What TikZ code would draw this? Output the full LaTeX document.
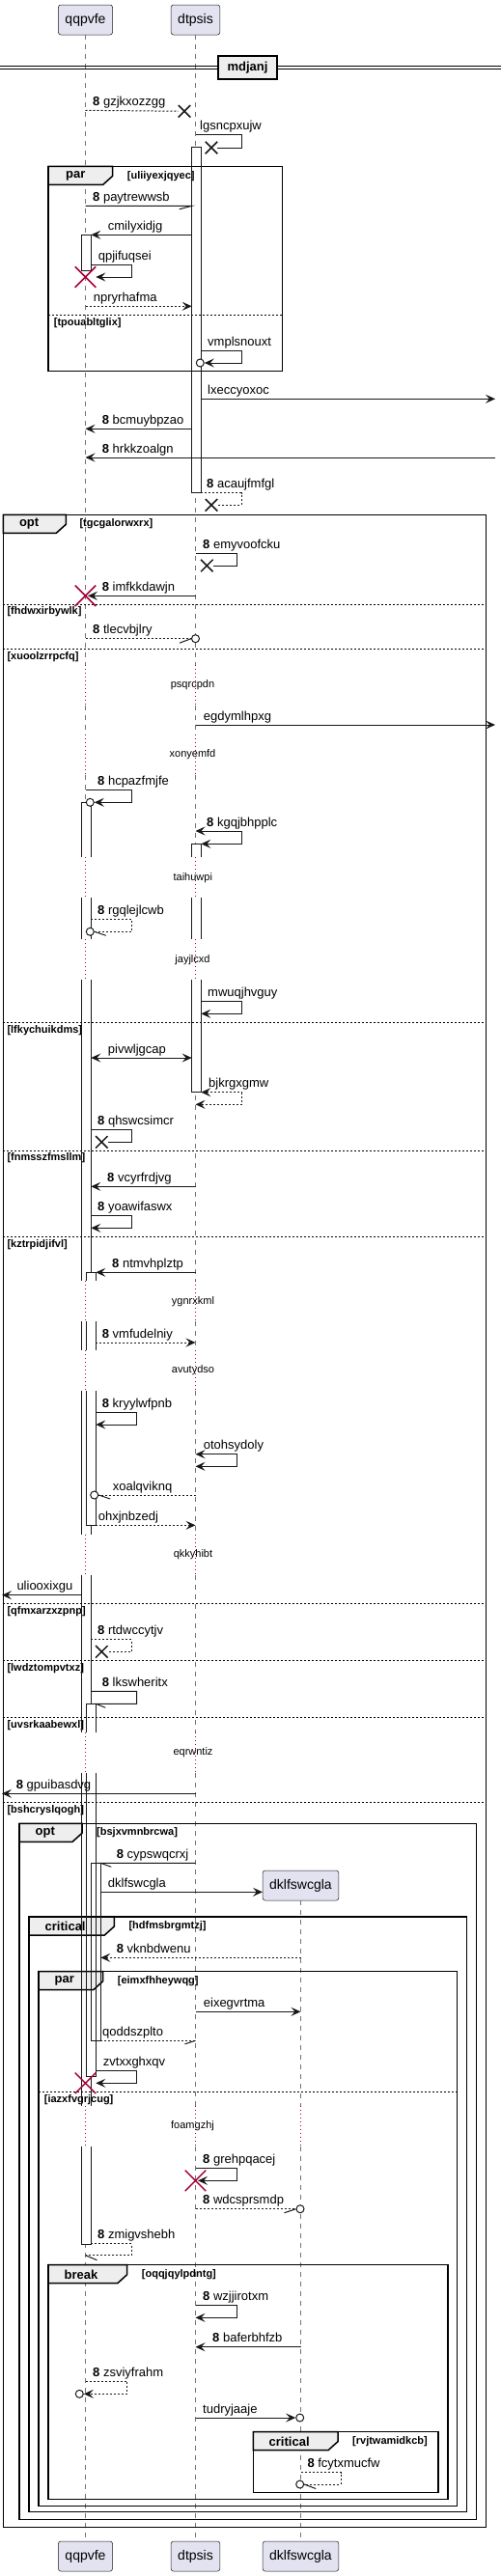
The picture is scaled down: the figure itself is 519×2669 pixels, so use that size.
\documentclass[tikz,border=0pt]{standalone}
\usepackage{fontspec}
\setmainfont{Liberation Sans}
\usetikzlibrary{arrows.meta,shapes.misc}

\definecolor{partfill}{HTML}{E2E2F0}
\definecolor{linecol}{HTML}{181818}
\definecolor{killcol}{HTML}{A80036}
\definecolor{tabfill}{HTML}{EEEEEE}

\begin{document}
\begin{tikzpicture}[x=1pt, y=-1pt,
  part/.style={draw=linecol, fill=partfill, rounded corners=2.5pt, line width=0.5pt,
    font=\fontsize{14}{16}\selectfont, inner xsep=7pt, inner ysep=0pt, minimum height=31pt},
  life/.style={draw=black!55, line width=0.7pt, dash pattern=on 5pt off 5pt},
  delayline/.style={draw=killcol, line width=0.8pt, dash pattern=on 1pt off 3pt},
  bline/.style={draw=linecol, line width=1pt},
  rline/.style={bline, dash pattern=on 2pt off 2pt},
  msg/.style={bline, -{Stealth[length=10pt, width=9pt, inset=4pt]}},
  rmsg/.style={rline, -{Stealth[length=10pt, width=9pt, inset=4pt]}},
  bimsg/.style={bline, {Stealth[length=10pt, width=9pt, inset=4pt]}-{Stealth[length=10pt, width=9pt, inset=4pt]}},
  birmsg/.style={rline, {Stealth[length=10pt, width=9pt, inset=4pt]}-{Stealth[length=10pt, width=9pt, inset=4pt]}},
  lbl/.style={font=\fontsize{13}{15}\selectfont, inner sep=0pt, anchor=base west},
  dlbl/.style={font=\fontsize{11}{13}\selectfont, inner sep=0pt},
  actline/.style={draw=linecol, line width=0.8pt},
  frm/.style={draw=black, line width=1.5pt},
  tabshape/.style={draw=black, fill=tabfill, line width=1.5pt},
  tablbl/.style={font=\bfseries\fontsize{13}{15}\selectfont, inner sep=0pt, anchor=west},
  guard/.style={font=\bfseries\fontsize{11}{13}\selectfont, inner sep=0pt, anchor=west},
  divline/.style={draw=black, line width=0.8pt, dash pattern=on 2pt off 2pt},
  lostx/.style={draw=linecol, cross out, line width=1.5pt, minimum size=11pt, inner sep=0pt},
  killx/.style={draw=killcol, cross out, line width=1.5pt, minimum size=20pt, inner sep=0pt},
  endo/.style={draw=linecol, circle, line width=1pt, fill=white, minimum size=8pt, inner sep=0pt}
]
\useasboundingbox (0,0) rectangle (519,2669);

% columns beside the activation bars
\coordinate (qa) at (84.3,0);
\coordinate (qm) at (89.3,0);
\coordinate (qb) at (94.3,0);
\coordinate (qc) at (99.3,0);
\coordinate (qd) at (104.3,0);
\coordinate (dl) at (198.7,0);
\coordinate (dr) at (208.3,0);
\coordinate (lft) at (2,0);
\coordinate (rgt) at (513,0);

% participants
\node[part] (qqpvfe) at (88.5,20.5) {qqpvfe};
\node[part] (dtpsis) at (202.5,20.5) {dtpsis};
\node[part] (dklf) at (311.5,1953.5) {dklfswcgla};
\node[part] (qqpvfeB) at (88.5,2648.5) {qqpvfe};
\node[part] (dtpsisB) at (202.5,2648.5) {dtpsis};
\node[part] (dklfB) at (311.5,2648.5) {dklfswcgla};

% lifelines
\draw[life] (qqpvfe.south) -- (qqpvfe |- 0,689) (qqpvfe |- 0,731) -- (qqpvfe |- 0,760.7)
  (qqpvfe |- 0,802.7) -- (qqpvfe |- 0,888) (qqpvfe |- 0,930) -- (qqpvfe |- 0,973)
  (qqpvfe |- 0,1015) -- (qqpvfe |- 0,1327) (qqpvfe |- 0,1369) -- (qqpvfe |- 0,1399)
  (qqpvfe |- 0,1441) -- (qqpvfe |- 0,1589.7) (qqpvfe |- 0,1631.7) -- (qqpvfe |- 0,1795)
  (qqpvfe |- 0,1837) -- (qqpvfe |- 0,2181.7) (qqpvfe |- 0,2223.7) -- (qqpvfeB.north);
\draw[life] (dtpsis.south) -- (dtpsis |- 0,689) (dtpsis |- 0,731) -- (dtpsis |- 0,760.7)
  (dtpsis |- 0,802.7) -- (dtpsis |- 0,888) (dtpsis |- 0,930) -- (dtpsis |- 0,973)
  (dtpsis |- 0,1015) -- (dtpsis |- 0,1327) (dtpsis |- 0,1369) -- (dtpsis |- 0,1399)
  (dtpsis |- 0,1441) -- (dtpsis |- 0,1589.7) (dtpsis |- 0,1631.7) -- (dtpsis |- 0,1795)
  (dtpsis |- 0,1837) -- (dtpsis |- 0,2181.7) (dtpsis |- 0,2223.7) -- (dtpsisB.north);
\draw[life] (dklf.south) -- (dklf |- 0,2181.7) (dklf |- 0,2223.7) -- (dklfB.north);

% activation fills
\fill[white] (dl |- 0,152.3) rectangle (dr |- 0,510.7);
\fill[white] (dl |- 0,874.3) rectangle (dr |- 0,888);
\fill[white] (dl |- 0,930) rectangle (dr |- 0,973);
\fill[white] (dl |- 0,1015) rectangle (dr |- 0,1131.7);
\fill[white] (qa |- 0,243.3) rectangle (qb |- 0,280.7);
\fill[white] (qa |- 0,831.3) rectangle (qb |- 0,888);
\fill[white] (qa |- 0,930) rectangle (qb |- 0,973);
\fill[white] (qa |- 0,1015) rectangle (qb |- 0,1327);
\fill[white] (qa |- 0,1369) rectangle (qc |- 0,1399);
\fill[white] (qa |- 0,1441) rectangle (qb |- 0,1589.7);
\fill[white] (qa |- 0,1631.7) rectangle (qb |- 0,1795);
\fill[white] (qa |- 0,1837) rectangle (qb |- 0,2181.7);
\fill[white] (qa |- 0,2223.7) rectangle (qb |- 0,2325.3);
\fill[white] (qm |- 0,1318.3) rectangle (qc |- 0,1327);
\fill[white] (qm |- 0,1441) rectangle (qc |- 0,1580.3);
\fill[white] (qm |- 0,1765.3) rectangle (qc |- 0,1795);
\fill[white] (qm |- 0,1837) rectangle (qc |- 0,2151.7);
\fill[white] (qb |- 0,1930.3) rectangle (qd |- 0,2114.3);

% outer opt
\draw[frm] (3.3,533.3) rectangle (503.3,2618.3);
\draw[tabshape] (3.3,533.3) -- (68.3,533.3) -- (68.3,543.3) -- (58.3,552.3) -- (3.3,552.3) -- cycle;
\node[tablbl] (optout) at (19.8,543) {opt};
\node[guard] (gtgc) at (82.3,543) {[tgcgalorwxrx]};
\draw[divline] (3.3,626) -- (503.3,626);
\node[guard] (gfhd) at (7.3,634) {[fhdwxirbywlk]};
\draw[divline] (3.3,672.3) -- (503.3,672.3);
\node[guard] (gxuo) at (7.3,680.3) {[xuoolzrrpcfq]};
\draw[divline] (3.3,1059.3) -- (503.3,1059.3);
\node[guard] (glfk) at (7.3,1067.3) {[lfkychuikdms]};
\draw[divline] (3.3,1192) -- (503.3,1192);
\node[guard] (gfnm) at (7.3,1200) {[fnmsszfmsllm]};
\draw[divline] (3.3,1281.3) -- (503.3,1281.3);
\node[guard] (gkzt) at (7.3,1289.3) {[kztrpidjifvl]};
\draw[divline] (3.3,1661.3) -- (503.3,1661.3);
\node[guard] (gqfm) at (7.3,1669.3) {[qfmxarzxzpnp]};
\draw[divline] (3.3,1720.7) -- (503.3,1720.7);
\node[guard] (glwd) at (7.3,1728.7) {[lwdztompvtxz]};
\draw[divline] (3.3,1779.3) -- (503.3,1779.3);
\node[guard] (guvs) at (7.3,1787.3) {[uvsrkaabewxl]};
\draw[divline] (3.3,1867.3) -- (503.3,1867.3);
\node[guard] (gbsh) at (7.3,1875.3) {[bshcryslqogh]};

% inner opt
\draw[frm] (20,1889.3) rectangle (493.3,2610.7);
\draw[tabshape] (20,1889.3) -- (85,1889.3) -- (85,1899.3) -- (75,1908.3) -- (20,1908.3) -- cycle;
\node[tablbl] (optin) at (36.5,1899) {opt};
\node[guard] (gbsj) at (100,1899) {[bsjxvmnbrcwa]};

% critical
\draw[frm] (30,1986) rectangle (483.3,2602.7);
\draw[tabshape] (30,1986) -- (118.3,1986) -- (118.3,1996) -- (108.3,2005) -- (30,2005) -- cycle;
\node[tablbl] (critout) at (46.5,1996) {critical};
\node[guard] (ghdf) at (133.3,1996) {[hdfmsbrgmtzj]};

% par inside critical
\draw[frm] (40,2042.7) rectangle (473.3,2596.7);
\draw[tabshape] (40,2042.7) -- (106.7,2042.7) -- (106.7,2052.7) -- (96.7,2061.7) -- (40,2061.7) -- cycle;
\node[tablbl] (parin) at (56.5,2052.5) {par};
\node[guard] (geim) at (121.7,2052.5) {[eimxfhheywqg]};
\draw[divline] (40,2167.3) -- (473.3,2167.3);
\node[guard] (giaz) at (45.7,2175.3) {[iazxfvgrjcug]};

% break
\draw[frm] (50,2346.7) rectangle (464,2589.3);
\draw[tabshape] (50,2346.7) -- (131.7,2346.7) -- (131.7,2356.7) -- (121.7,2365.7) -- (50,2365.7) -- cycle;
\node[tablbl] (brk) at (66.5,2356.5) {break};
\node[guard] (goqq) at (146.7,2356.5) {[oqqjqylpdntg]};

% critical inside break
\draw[frm] (262.3,2519.7) rectangle (454,2582.7);
\draw[tabshape] (262.3,2519.7) -- (350,2519.7) -- (350,2529.7) -- (340,2538.7) -- (262.3,2538.7) -- cycle;
\node[tablbl] (critin) at (278.5,2529.5) {critical};
\node[guard] (grvj) at (365,2529.5) {[rvjtwamidkcb]};

% par at the top
\draw[frm] (50,172.3) rectangle (292.7,384.3);
\draw[tabshape] (50,172.3) -- (116.7,172.3) -- (116.7,182.3) -- (106.7,191.3) -- (50,191.3) -- cycle;
\node[tablbl] (partop) at (68,182.3) {par};
\node[guard] (guli) at (131.7,182.3) {[uliiyexjqyec]};
\draw[divline] (50,326.7) -- (292.7,326.7);
\node[guard] (gtpo) at (55.7,334.3) {[tpouabltglix]};

% delays
\draw[delayline] (qqpvfe |- 0,689) -- (qqpvfe |- 0,731) (dtpsis |- 0,689) -- (dtpsis |- 0,731);
\node[dlbl] (dpsq) at (199.5,710) {psqrcpdn};
\draw[delayline] (qqpvfe |- 0,760.7) -- (qqpvfe |- 0,802.7) (dtpsis |- 0,760.7) -- (dtpsis |- 0,802.7);
\node[dlbl] (dxon) at (199.5,781.7) {xonyemfd};
\draw[delayline] (qqpvfe |- 0,888) -- (qqpvfe |- 0,930) (dtpsis |- 0,888) -- (dtpsis |- 0,930);
\node[dlbl] (dtai) at (199.8,909.3) {taihuwpi};
\draw[delayline] (qqpvfe |- 0,973) -- (qqpvfe |- 0,1015) (dtpsis |- 0,973) -- (dtpsis |- 0,1015);
\node[dlbl] (djay) at (199.5,994.3) {jayjlcxd};
\draw[delayline] (qqpvfe |- 0,1327) -- (qqpvfe |- 0,1369) (dtpsis |- 0,1327) -- (dtpsis |- 0,1369);
\node[dlbl] (dygn) at (200,1348.3) {ygnrxkml};
\draw[delayline] (qqpvfe |- 0,1399) -- (qqpvfe |- 0,1441) (dtpsis |- 0,1399) -- (dtpsis |- 0,1441);
\node[dlbl] (davu) at (200,1420) {avutydso};
\draw[delayline] (qqpvfe |- 0,1589.7) -- (qqpvfe |- 0,1631.7) (dtpsis |- 0,1589.7) -- (dtpsis |- 0,1631.7);
\node[dlbl] (dqkk) at (200,1610.7) {qkkyhibt};
\draw[delayline] (qqpvfe |- 0,1795) -- (qqpvfe |- 0,1837) (dtpsis |- 0,1795) -- (dtpsis |- 0,1837);
\node[dlbl] (deqr) at (200,1816) {eqrwntiz};
\draw[delayline] (qqpvfe |- 0,2181.7) -- (qqpvfe |- 0,2223.7) (dtpsis |- 0,2181.7) -- (dtpsis |- 0,2223.7)
  (dklf |- 0,2181.7) -- (dklf |- 0,2223.7);
\node[dlbl] (dfoa) at (199.5,2202.7) {foamgzhj};

% separator
\draw[draw=black, line width=1pt] (0,68.3) -- (519,68.3) (0,71.3) -- (519,71.3);
\node[draw=black, fill=tabfill, line width=1.5pt, minimum width=61pt, minimum height=24pt,
  inner sep=0pt, font=\bfseries\fontsize{13}{15}\selectfont] (sepmd) at (256.5,70) {mdjanj};

% activation outlines on dtpsis
\draw[actline] (dl |- 0,152.3) rectangle (dr |- 0,510.7);
\draw[actline] (dl |- 0,888) -- (dl |- 0,874.3) -- (dr |- 0,874.3) -- (dr |- 0,888);
\draw[actline] (dl |- 0,930) -- (dl |- 0,973) (dr |- 0,930) -- (dr |- 0,973);
\draw[actline] (dl |- 0,1015) -- (dl |- 0,1131.7) -- (dr |- 0,1131.7) -- (dr |- 0,1015);

% activation outlines on qqpvfe
\draw[actline] (qa |- 0,243.3) rectangle (qb |- 0,280.7);
\draw[actline] (qb |- 0,888) -- (qb |- 0,831.3) -- (qa |- 0,831.3) -- (qa |- 0,888)
  (qa |- 0,930) -- (qa |- 0,973) (qa |- 0,1015) -- (qa |- 0,1327) (qa |- 0,1369) -- (qa |- 0,1399)
  (qa |- 0,1441) -- (qa |- 0,1589.7) (qa |- 0,1631.7) -- (qa |- 0,1795) (qa |- 0,1837) -- (qa |- 0,2181.7)
  (qa |- 0,2223.7) -- (qa |- 0,2325.3) -- (qb |- 0,2325.3) -- (qb |- 0,2223.7);
\draw[actline] (qb |- 0,930) -- (qb |- 0,973) (qb |- 0,1015) -- (qb |- 0,1318.3)
  (qb |- 0,1580.3) -- (qb |- 0,1589.7) (qb |- 0,1631.7) -- (qb |- 0,1765.3) (qb |- 0,2151.7) -- (qb |- 0,2181.7);
\draw[actline] (qm |- 0,1327) -- (qm |- 0,1318.3) -- (qc |- 0,1318.3) -- (qc |- 0,1327);
\draw[actline] (qm |- 0,1369) -- (qm |- 0,1399) (qc |- 0,1369) -- (qc |- 0,1399);
\draw[actline] (qm |- 0,1441) -- (qm |- 0,1580.3) -- (qc |- 0,1580.3) -- (qc |- 0,1441);
\draw[actline] (qm |- 0,1795) -- (qm |- 0,1765.3) -- (qc |- 0,1765.3) -- (qc |- 0,1795);
\draw[actline] (qm |- 0,1837) -- (qm |- 0,2151.7) -- (qc |- 0,2151.7) -- (qc |- 0,1837);
\draw[actline] (qb |- 0,1930.3) rectangle (qd |- 0,2114.3);

% messages
\node[lostx] (xgzj) at (191,115.3) {};
\draw[rline] (qqpvfe |- 0,114.3) -- (xgzj);
\node[lbl] (tgzj) at (96,109.3) {\textbf{8} gzjkxozzgg};

\node[lostx] (xlgs) at (219,153) {};
\draw[bline] (dtpsis |- 0,139.7) -- ++(47.7,0) |- (xlgs);
\node[lbl] (tlgs) at (207,134.7) {lgsncpxujw};

\draw[bline] (qqpvfe |- 0,213.3) -- (dl |- 0,213.3) -- ++(-13,3.5);
\node[lbl] (tpay) at (96,208.3) {\textbf{8} paytrewwsb};

\draw[msg] (dl |- 0,243.3) -- (qb |- 0,243.3);
\node[lbl] (tcmi) at (111.7,238.3) {cmilyxidjg};

\node[killx] (kqpj) at (88.5,287) {};
\draw[msg] (qb |- 0,274.3) -- ++(42,0) -- ++(0,12.7) -- (qc |- 0,287);
\node[lbl] (tqpj) at (101.7,269.3) {qpjifuqsei};

\draw[rmsg] (qqpvfe |- 0,317.3) -- (dl |- 0,317.3);
\node[lbl] (tnpr) at (96.7,312.3) {npryrhafma};

\node[endo] (ovmp) at (207.3,376) {};
\draw[msg] (dr |- 0,363.7) -- ++(41.7,0) |- (ovmp);
\node[lbl] (tvmp) at (215,358.7) {vmplsnouxt};

\draw[msg] (dr |- 0,413.3) -- (rgt |- 0,413.3);
\node[lbl] (tlxe) at (215,408.3) {lxeccyoxoc};

\draw[msg] (dl |- 0,444.3) -- (qqpvfe |- 0,444.3);
\node[lbl] (tbcm) at (105.7,439.3) {\textbf{8} bcmuybpzao};

\draw[msg] (rgt |- 0,474) -- (qqpvfe |- 0,474);
\node[lbl] (thrk) at (105.7,469) {\textbf{8} hrkkzoalgn};

\node[lostx] (xaca) at (219,523.3) {};
\draw[rline] (dr |- 0,510.7) -- ++(41.7,0) |- (xaca);
\node[lbl] (taca) at (214,505.7) {\textbf{8} acaujfmfgl};

\node[lostx] (xemy) at (214.3,586) {};
\draw[bline] (dtpsis |- 0,573.3) -- ++(43.2,0) |- (xemy);
\node[lbl] (temy) at (210,568.3) {\textbf{8} emyvoofcku};

\node[killx] (kimf) at (88.5,617.3) {};
\draw[msg] (dtpsis |- 0,617.3) -- (91,617.3);
\node[lbl] (timf) at (105.7,612.3) {\textbf{8} imfkkdawjn};

\node[endo] (otle) at (202.5,661.7) {};
\draw[rline] (qqpvfe |- 0,661.7) -- (otle);
\draw[bline] (otle.west) -- ++(-12,4.5);
\node[lbl] (ttle) at (96,656.7) {\textbf{8} tlecvbjlry};

\draw[msg] (dtpsis |- 0,751) -- (rgt |- 0,751);
\node[lbl] (tegd) at (210.7,746) {egdymlhpxg};

\node[endo] (ohcp) at (93.3,831.3) {};
\draw[msg] (qqpvfe |- 0,818.7) -- ++(47.8,0) |- (ohcp);
\node[lbl] (thcp) at (101,813.7) {\textbf{8} hcpazfmjfe};

\draw[bimsg] (dtpsis |- 0,861) -- ++(47.5,0) -- ++(0,13.3) -- (dr |- 0,874.3);
\node[lbl] (tkgq) at (214,856) {\textbf{8} kgqjbhpplc};

\node[endo] (orgq) at (93.3,965.3) {};
\draw[rline] (qb |- 0,952) -- ++(42,0) |- (orgq);
\draw[bline] (orgq.east) -- ++(12,4);
\node[lbl] (trgq) at (101,947) {\textbf{8} rgqlejlcwb};

\draw[msg] (dr |- 0,1037.3) -- ++(41.7,0) -- ++(0,13) -- (dr |- 0,1050.3);
\node[lbl] (tmwu) at (215,1032.3) {mwuqjhvguy};

\draw[bimsg] (qb |- 0,1096) -- (dl |- 0,1096);
\node[lbl] (tpiv) at (111.7,1091) {pivwljgcap};

\draw[birmsg] (dr |- 0,1131.7) -- ++(41.7,0) -- ++(0,12.6) -- (dtpsis |- 0,1144.3);
\node[lbl] (tbjk) at (216,1126.7) {bjkrgxgmw};

\node[lostx] (xqhs) at (105.3,1183.3) {};
\draw[bline] (qb |- 0,1170.7) -- ++(42,0) |- (xqhs);
\node[lbl] (tqhs) at (101,1165.7) {\textbf{8} qhswcsimcr};

\draw[msg] (dtpsis |- 0,1229.3) -- (qb |- 0,1229.3);
\node[lbl] (tvcy) at (111,1224.3) {\textbf{8} vcyrfrdjvg};

\draw[msg] (qb |- 0,1259.3) -- ++(42,0) -- ++(0,13) -- (qb |- 0,1272.3);
\node[lbl] (tyoa) at (101,1254.3) {\textbf{8} yoawifaswx};

\draw[msg] (dtpsis |- 0,1318.3) -- (qc |- 0,1318.3);
\node[lbl] (tntm) at (116,1313.3) {\textbf{8} ntmvhplztp};

\draw[rmsg] (qc |- 0,1391) -- (dtpsis |- 0,1391);
\node[lbl] (tvmf) at (105.7,1386) {\textbf{8} vmfudelniy};

\draw[msg] (qc |- 0,1463.3) -- ++(42.4,0) -- ++(0,12.7) -- (qc |- 0,1476);
\node[lbl] (tkry) at (105.7,1458.3) {\textbf{8} kryylwfpnb};

\draw[bimsg] (dtpsis |- 0,1506.7) -- ++(43.2,0) -- ++(0,12.6) -- (dtpsis |- 0,1519.3);
\node[lbl] (toto) at (210.7,1501.7) {otohsydoly};

\node[endo] (oxoa) at (97.7,1549) {};
\draw[rline] (dtpsis |- 0,1549) -- (oxoa);
\draw[bline] (oxoa.east) -- ++(12,4);
\node[lbl] (txoa) at (116.7,1544) {xoalqviknq};

\draw[rmsg] (qc |- 0,1580.3) -- (dtpsis |- 0,1580.3);
\node[lbl] (tohx) at (101.7,1575.3) {ohxjnbzedj};

\draw[msg] (qa |- 0,1652.7) -- (lft |- 0,1652.7);
\node[lbl] (tuli) at (17.3,1647.7) {uliooxixgu};

\node[lostx] (xrtd) at (105.3,1711.3) {};
\draw[rline] (qb |- 0,1698.7) -- ++(42,0) |- (xrtd);
\node[lbl] (trtd) at (101,1693.7) {\textbf{8} rtdwccytjv};

\draw[bline] (qb |- 0,1752.3) -- ++(47.4,0) -- ++(0,13) -- (qc |- 0,1765.3) -- ++(10,4);
\node[lbl] (tlks) at (105.7,1747.3) {\textbf{8} lkswheritx};

\draw[msg] (dtpsis |- 0,1858.3) -- (lft |- 0,1858.3);
\node[lbl] (tgpu) at (16.7,1853.3) {\textbf{8} gpuibasdvg};

\draw[bline] (dtpsis |- 0,1930.3) -- (qd |- 0,1930.3) -- ++(11,4);
\node[lbl] (tcyp) at (120.7,1925.3) {\textbf{8} cypswqcrxj};

\draw[msg] (qd |- 0,1960.3) -- (dklf.west |- 0,1960.3);
\node[lbl] (tdkl) at (111.7,1955.3) {dklfswcgla};

\draw[rmsg] (dklf |- 0,2028.3) -- (qd |- 0,2028.3);
\node[lbl] (tvkn) at (120.7,2023.3) {\textbf{8} vknbdwenu};

\draw[msg] (dtpsis |- 0,2084.3) -- (dklf |- 0,2084.3);
\node[lbl] (teix) at (210.7,2079.3) {eixegvrtma};

\draw[rline] (qd |- 0,2114.3) -- (dtpsis |- 0,2114.3);
\draw[bline] (dtpsis |- 0,2114.3) -- ++(-11,3.5);
\node[lbl] (tqod) at (106,2109.3) {qoddszplto};

\node[killx] (kzvt) at (88.5,2158.3) {};
\draw[msg] (qc |- 0,2145.7) -- ++(42.4,0) -- ++(0,12.6) -- (qc |- 0,2158.3);
\node[lbl] (tzvt) at (106.7,2140.7) {zvtxxghxqv};

\node[killx] (kgre) at (202.5,2259.3) {};
\draw[msg] (dtpsis |- 0,2246.7) -- ++(43.2,0) -- ++(0,12.6) -- (205,2259.3);
\node[lbl] (tgre) at (210,2241.7) {\textbf{8} grehpqacej};

\node[endo] (owdc) at (311,2288.7) {};
\draw[rline] (dtpsis |- 0,2288.7) -- (owdc);
\draw[bline] (owdc.west) -- ++(-12,4);
\node[lbl] (twdc) at (210,2283.7) {\textbf{8} wdcsprsmdp};

\draw[rline] (qb |- 0,2324.7) -- ++(42,0) -- ++(0,12) -- (qqpvfe |- 0,2336.7);
\draw[bline] (qqpvfe |- 0,2336.7) -- ++(12,5);
\node[lbl] (tzmi) at (101,2319.7) {\textbf{8} zmigvshebh};

\draw[msg] (dtpsis |- 0,2388.7) -- ++(43.2,0) -- ++(0,12.6) -- (dtpsis |- 0,2401.3);
\node[lbl] (twzj) at (210,2383.7) {\textbf{8} wzjjirotxm};

\draw[msg] (dklf |- 0,2431.7) -- (dtpsis |- 0,2431.7);
\node[lbl] (tbaf) at (220,2426.7) {\textbf{8} baferbhfzb};

\node[endo] (ozsv) at (82.3,2480.3) {};
\draw[rmsg] (qqpvfe |- 0,2467.3) -- ++(43.2,0) |- (ozsv);
\node[lbl] (tzsv) at (96,2462.3) {\textbf{8} zsviyfrahm};

\node[endo] (otud) at (310.7,2505) {};
\draw[msg] (dtpsis |- 0,2505) -- (otud);
\node[lbl] (ttud) at (210,2500) {tudryjaaje};

\node[endo] (ofcy) at (310.7,2574) {};
\draw[rline] (dklf |- 0,2561.7) -- ++(41.8,0) |- (ofcy);
\draw[bline] (ofcy.east) -- ++(12,4.5);
\node[lbl] (tfcy) at (318.3,2556.7) {\textbf{8} fcytxmucfw};
\end{tikzpicture}
\end{document}
